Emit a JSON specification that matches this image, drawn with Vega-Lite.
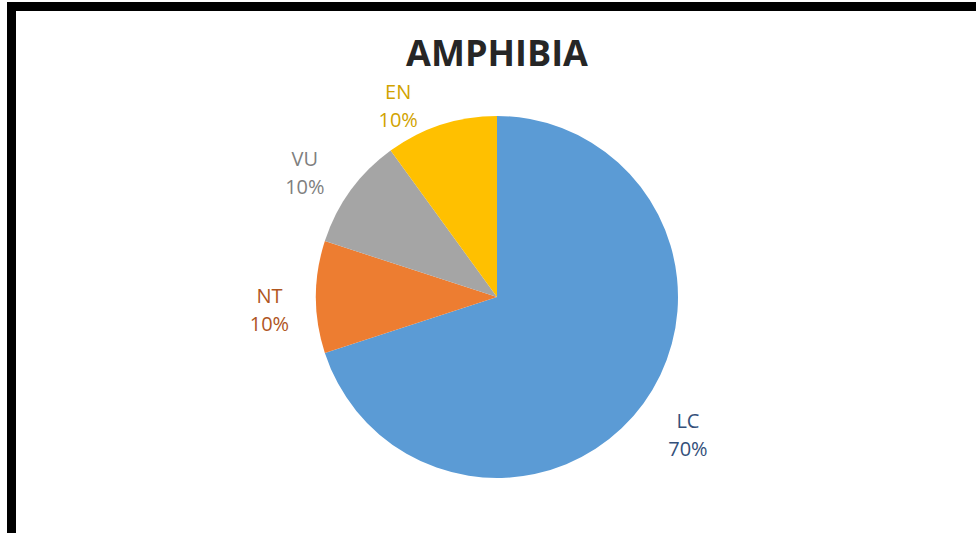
{
  "$schema": "https://vega.github.io/schema/vega-lite/v6.json",
  "width": 976,
  "height": 533,
  "autosize": {"type": "fit", "contains": "padding"},
  "padding": {"left": 6.5, "top": 1.5, "right": -11.5, "bottom": -59.5},
  "background": "white",
  "title": {
    "text": "AMPHIBIA",
    "font": "Open Sans",
    "fontSize": 36,
    "fontWeight": "bold",
    "color": "#262626",
    "anchor": "middle",
    "frame": "group",
    "offset": -61,
    "dy": 39,
    "baseline": "alphabetic"
  },
  "data": {
    "values": [
      {"status": "LC", "pct": 70, "order": 1},
      {"status": "NT", "pct": 10, "order": 2},
      {"status": "VU", "pct": 10, "order": 3},
      {"status": "EN", "pct": 10, "order": 4}
    ]
  },
  "transform": [
    {"stack": "pct", "sort": [{"field": "order", "order": "ascending"}], "groupby": [], "as": ["start", "end"]},
    {"calculate": "(datum.start + datum.end) / 2", "as": "mid"},
    {"calculate": "datum.status + '\\n' + datum.pct + '%'", "as": "label"}
  ],
  "layer": [
    {
      "data": {"values": [{"frame": 1}]},
      "mark": {"type": "rect", "fill": "white", "fillOpacity": 0, "stroke": "black", "strokeWidth": 9},
      "encoding": {}
    },
    {
      "mark": {"type": "arc", "outerRadius": 181},
      "encoding": {
        "theta": {"field": "start", "type": "quantitative", "stack": null, "scale": {"domain": [0, 100]}},
        "theta2": {"field": "end"},
        "color": {
          "field": "status",
          "type": "nominal",
          "scale": {"domain": ["LC", "NT", "VU", "EN"], "range": ["#5B9BD5", "#ED7D31", "#A5A5A5", "#FFC000"]},
          "legend": null
        }
      }
    },
    {
      "layer": [
        {
          "transform": [{"filter": "datum.status === 'LC'"}],
          "mark": {"type": "text", "radius": 236, "dy": -14, "font": "Open Sans", "fontSize": 20, "lineBreak": "\n", "lineHeight": 28}
        },
        {
          "transform": [{"filter": "datum.status === 'NT' || datum.status === 'VU'"}],
          "mark": {"type": "text", "radius": 228, "dy": -14, "thetaOffset": -0.06, "font": "Open Sans", "fontSize": 20, "lineBreak": "\n", "lineHeight": 28}
        },
        {
          "transform": [{"filter": "datum.status === 'EN'"}],
          "mark": {"type": "text", "radius": 214, "dy": -14, "thetaOffset": -0.166, "font": "Open Sans", "fontSize": 20, "lineBreak": "\n", "lineHeight": 28}
        }
      ],
      "encoding": {
        "theta": {"field": "mid", "type": "quantitative", "stack": null, "scale": {"domain": [0, 100]}},
        "text": {"field": "label", "type": "nominal"},
        "color": {
          "field": "status",
          "type": "nominal",
          "scale": {"domain": ["LC", "NT", "VU", "EN"], "range": ["#34507A", "#B0561F", "#7F7F7F", "#D1A300"]},
          "legend": null
        }
      }
    }
  ],
  "resolve": {"scale": {"color": "independent"}}
}
